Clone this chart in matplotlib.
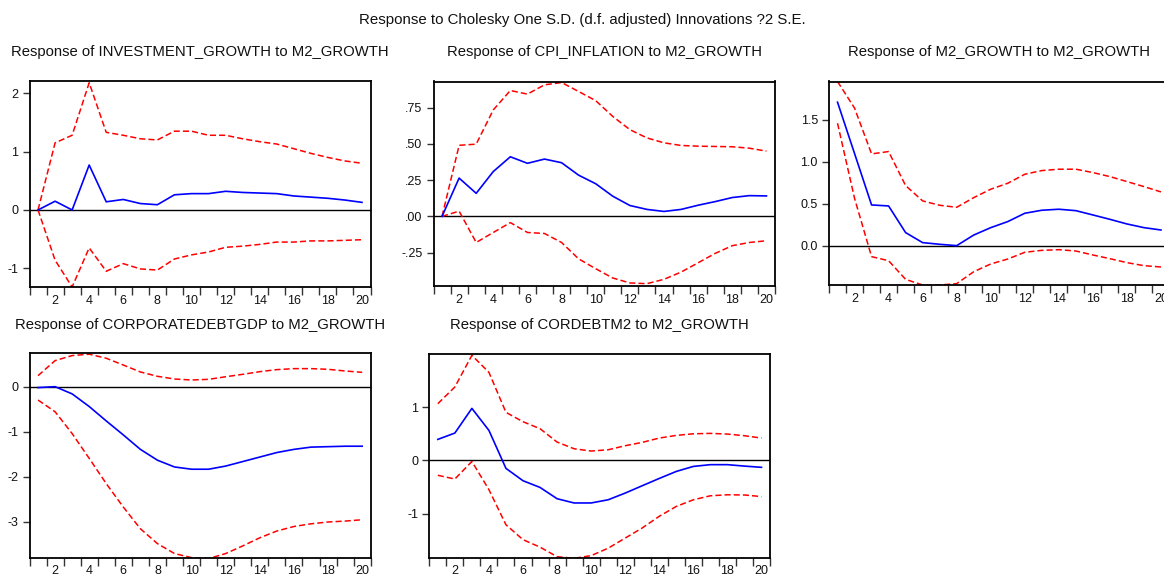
import matplotlib
matplotlib.use("Agg")
import matplotlib.pyplot as plt
import numpy as np

plt.rcParams['font.family'] = ['Liberation Sans', 'DejaVu Sans']

periods = list(range(1, 21))

# Response of INVESTMENT_GROWTH to M2_GROWTH
inv_resp = [0.0, 0.15, 0.0, 0.77, 0.14, 0.18, 0.11, 0.09, 0.26, 0.28,
            0.28, 0.32, 0.30, 0.29, 0.28, 0.24, 0.22, 0.20, 0.17, 0.13]
inv_upper = [0.0, 1.15, 1.28, 2.18, 1.33, 1.28, 1.22, 1.20, 1.35, 1.35,
             1.28, 1.28, 1.22, 1.17, 1.13, 1.05, 0.97, 0.90, 0.84, 0.80]
inv_lower = [0.0, -0.86, -1.32, -0.65, -1.05, -0.92, -1.01, -1.03, -0.84, -0.77,
             -0.72, -0.64, -0.62, -0.59, -0.55, -0.55, -0.53, -0.53, -0.52, -0.51]

# Response of CPI_INFLATION to M2_GROWTH
cpi_resp = [0.0, 0.264, 0.159, 0.309, 0.411, 0.366, 0.395, 0.370, 0.284, 0.225,
            0.139, 0.075, 0.048, 0.034, 0.048, 0.077, 0.102, 0.130, 0.143, 0.141]
cpi_upper = [0.0, 0.490, 0.498, 0.734, 0.868, 0.843, 0.907, 0.923, 0.861, 0.798,
             0.689, 0.598, 0.541, 0.507, 0.489, 0.484, 0.482, 0.480, 0.470, 0.450]
cpi_lower = [0.0, 0.036, -0.180, -0.111, -0.043, -0.111, -0.118, -0.180, -0.293, -0.361,
             -0.425, -0.459, -0.464, -0.434, -0.384, -0.320, -0.255, -0.202, -0.180, -0.168]

# Response of M2_GROWTH to M2_GROWTH
m2_resp = [1.71, 1.10, 0.488, 0.476, 0.159, 0.040, 0.020, 0.004, 0.130, 0.218,
           0.290, 0.389, 0.425, 0.437, 0.420, 0.369, 0.317, 0.262, 0.218, 0.190]
m2_upper = [1.956, 1.64, 1.095, 1.123, 0.718, 0.536, 0.484, 0.460, 0.575, 0.675,
            0.746, 0.853, 0.897, 0.913, 0.913, 0.873, 0.825, 0.766, 0.706, 0.643]
m2_lower = [1.46, 0.567, -0.127, -0.175, -0.397, -0.464, -0.464, -0.448, -0.306, -0.214,
            -0.155, -0.075, -0.052, -0.044, -0.060, -0.107, -0.151, -0.198, -0.234, -0.250]

# Response of CORPORATEDEBTGDP to M2_GROWTH
cdg_resp = [-0.02, 0.0, -0.16, -0.44, -0.76, -1.07, -1.39, -1.63, -1.78, -1.83,
            -1.83, -1.76, -1.66, -1.56, -1.46, -1.39, -1.34, -1.33, -1.32, -1.32]
cdg_upper = [0.244, 0.578, 0.69, 0.72, 0.63, 0.48, 0.326, 0.23, 0.17, 0.148,
             0.163, 0.22, 0.274, 0.333, 0.378, 0.40, 0.40, 0.385, 0.348, 0.318]
cdg_lower = [-0.296, -0.556, -1.04, -1.59, -2.15, -2.67, -3.15, -3.48, -3.70, -3.79,
             -3.81, -3.70, -3.53, -3.35, -3.20, -3.10, -3.04, -3.00, -2.98, -2.95]

# Response of CORDEBTM2 to M2_GROWTH
cdm_resp = [0.395, 0.514, 0.978, 0.564, -0.15, -0.382, -0.508, -0.72, -0.80, -0.80,
            -0.74, -0.614, -0.476, -0.339, -0.207, -0.113, -0.08, -0.08, -0.107, -0.13]
cdm_upper = [1.066, 1.38, 1.975, 1.655, 0.903, 0.727, 0.596, 0.345, 0.219, 0.176,
             0.20, 0.276, 0.339, 0.42, 0.47, 0.50, 0.508, 0.495, 0.464, 0.42]
cdm_lower = [-0.28, -0.35, -0.02, -0.55, -1.21, -1.49, -1.63, -1.81, -1.84, -1.79,
             -1.65, -1.46, -1.27, -1.05, -0.865, -0.74, -0.665, -0.646, -0.65, -0.68]

titles = [
    "Response of INVESTMENT_GROWTH to M2_GROWTH",
    "Response of CPI_INFLATION to M2_GROWTH",
    "Response of M2_GROWTH to M2_GROWTH",
    "Response of CORPORATEDEBTGDP to M2_GROWTH",
    "Response of CORDEBTM2 to M2_GROWTH",
]
ytick_vals = [
    [-1, 0, 1, 2],
    [-0.25, 0.0, 0.25, 0.50, 0.75],
    [0.0, 0.5, 1.0, 1.5],
    [-3, -2, -1, 0],
    [-1, 0, 1],
]
ytick_text = [
    ["-1", "0", "1", "2"],
    ["-.25", ".00", ".25", ".50", ".75"],
    ["0.0", "0.5", "1.0", "1.5"],
    ["-3", "-2", "-1", "0"],
    ["-1", "0", "1"],
]
ylims = [(-1.32, 2.21), (-0.478, 0.93), (-0.464, 1.956), (-3.805, 0.74), (-1.84, 2.0)]
series = [
    (inv_resp, inv_upper, inv_lower),
    (cpi_resp, cpi_upper, cpi_lower),
    (m2_resp, m2_upper, m2_lower),
    (cdg_resp, cdg_upper, cdg_lower),
    (cdm_resp, cdm_upper, cdm_lower),
]

W, H = 1164, 576
# axes boxes in pixels: left, top, right, bottom
boxes = [
    (29.5, 81, 370.5, 287),
    (433.5, 81.5, 775, 285.7),
    (829, 81.5, 1169.5, 285),
    (29.5, 353.3, 370.7, 558.3),
    (429.3, 354, 770, 558.3),
]
title_rows = [52, 52, 52, 325, 325]
label_pads = [6, 6, 6, 4.5, 4.5]

fig = plt.figure(figsize=(W / 100, H / 100), dpi=100)
fig.text(0.5, 1 - 20 / H, "Response to Cholesky One S.D. (d.f. adjusted) Innovations ?2 S.E.",
         ha="center", va="center", fontsize=10.8, color="#111111")

for i, (l, t, r, b) in enumerate(boxes):
    ax = fig.add_axes([l / W, 1 - b / H, (r - l) / W, (b - t) / H])
    resp, up, lo = series[i]
    ax.axhline(0, color="black", lw=1.0, zorder=1)
    ax.plot(periods, up, color="#ff0000", lw=1.1, dashes=(4, 2), zorder=2)
    ax.plot(periods, lo, color="#ff0000", lw=1.1, dashes=(4, 2), zorder=2)
    ax.plot(periods, resp, color="#0000ff", lw=1.2, zorder=3)
    ax.set_xlim(0.5, 20.5)
    ax.set_ylim(*ylims[i])
    ax.set_yticks(ytick_vals[i])
    ax.set_yticklabels(ytick_text[i])
    # period boundaries carry the tick marks, even periods carry the labels
    ax.set_xticks(np.arange(0.5, 21, 1.0))
    ax.set_xticklabels([])
    ax.set_xticks(np.arange(2, 21, 2), minor=True)
    ax.set_xticklabels([str(v) for v in range(2, 21, 2)], minor=True)
    ax.tick_params(axis="x", which="major", direction="out", length=6, width=1.0, color="#333333")
    ax.tick_params(axis="x", which="minor", length=0, pad=label_pads[i], labelsize=9,
                   labelcolor="#111111")
    ax.tick_params(axis="y", direction="out", length=5, width=1.0, color="#333333",
                   labelsize=9, labelcolor="#111111", pad=3)
    for sp in ax.spines.values():
        sp.set_linewidth(1.3)
        sp.set_color("black")
    # panel heading, centred over the panel box
    fig.text((l + r) / 2 / W, 1 - title_rows[i] / H, titles[i],
             ha="center", va="center", fontsize=10.7, color="#111111")

fig.savefig("out.png", dpi=100)
